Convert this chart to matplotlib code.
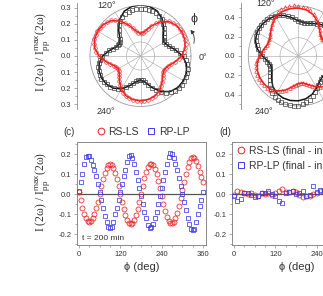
import numpy as np
import matplotlib
matplotlib.use('Agg')
import matplotlib.pyplot as plt
from matplotlib.ticker import MultipleLocator, FuncFormatter, FixedLocator
from matplotlib.lines import Line2D
from matplotlib.patches import FancyArrowPatch

plt.rcParams['font.family'] = ['Liberation Sans', 'DejaVu Sans']
plt.rcParams['mathtext.fontset'] = 'custom'
plt.rcParams['mathtext.rm'] = 'Liberation Sans'
plt.rcParams['mathtext.it'] = 'Liberation Sans:italic'

# ---------------- data ----------------
# polar panels: data every 5 deg, fit curves every 10 deg
phi_data = np.arange(0, 360, 5)
phi_fit = np.arange(0, 360, 10)
theta_ticks = list(range(0, 360, 30))
theta_labels = ['0°', '120°', '240°']

# (a) RS-LS (red) and RP-LP (black)
red_a_data = [.26, .275, .285, .292, .298, .30, .302, .30, .297, .29, .282, .266, .25, .226, .2, .178,
              .158, .146, .142, .146, .16, .18, .205, .23, .255, .275, .29, .3, .306, .31, .312, .31,
              .307, .302, .292, .28, .262, .24, .218, .196, .178, .166, .162, .165, .175, .19, .207, .225,
              .242, .256, .267, .275, .28, .283, .284, .283, .28, .275, .267, .257, .244, .229, .212, .196,
              .183, .174, .171, .175, .185, .2, .219, .239]
red_a_fit = [.257, .283, .296, .300, .296, .280, .247, .200, .157, .140, .158, .203, .253, .288, .305, .310,
             .306, .291, .260, .216, .176, .160, .173, .205, .240, .265, .277, .280, .277, .266, .243, .211,
             .182, .170, .184, .218]
blk_a_data = [.27, .25, .228, .205, .188, .176, .172, .176, .188, .206, .226, .248, .266, .278, .285, .29,
              .293, .295, .295, .294, .291, .286, .28, .27, .255, .235, .212, .19, .17, .158, .153, .156,
              .166, .181, .199, .219, .238, .253, .264, .273, .278, .281, .282, .28, .277, .272, .262, .25,
              .235, .216, .196, .178, .162, .152, .148, .152, .165, .185, .21, .236, .26, .28, .296, .306,
              .312, .315, .316, .315, .312, .307, .298, .286]
blk_a_fit = [.263, .222, .185, .170, .186, .226, .270, .301, .316, .320, .315, .298, .263, .213, .168, .150,
             .164, .198, .237, .263, .276, .280, .276, .263, .237, .198, .164, .150, .167, .210, .257, .290,
             .306, .310, .306, .292]

# (b)
red_b_data = [.42, .4, .38, .357, .336, .318, .306, .302, .308, .323, .348, .378, .41, .44, .467, .49,
              .505, .515, .525, .53, .53, .525, .515, .5, .482, .458, .43, .405, .38, .36, .347, .342,
              .345, .356, .372, .39, .41, .428, .443, .455, .465, .472, .475, .475, .472, .466, .455, .44,
              .42, .398, .372, .346, .32, .3, .287, .282, .287, .3, .32, .344, .37, .393, .413, .428,
              .439, .445, .449, .45, .449, .446, .441, .432]
red_b_fit = [.418, .379, .335, .304, .306, .346, .405, .457, .487, .499, .499, .490, .466, .424, .377, .344,
             .343, .368, .403, .434, .452, .459, .459, .449, .421, .375, .321, .285, .285, .319, .369, .413,
             .439, .449, .449, .441]
blk_b_data = [.436, .443, .448, .45, .451, .45, .447, .444, .437, .428, .416, .402, .388, .374, .362, .354,
              .352, .356, .368, .386, .407, .43, .452, .47, .484, .494, .5, .503, .503, .5, .494, .485,
              .47, .45, .428, .402, .376, .35, .33, .318, .315, .322, .338, .362, .39, .418, .445, .468,
              .488, .503, .513, .52, .522, .52, .515, .505, .49, .47, .445, .415, .388, .365, .348, .337,
              .333, .336, .345, .36, .377, .395, .412, .426]
blk_b_fit = [.435, .447, .450, .447, .437, .417, .387, .361, .350, .366, .406, .450, .481, .496, .500, .495,
             .475, .433, .375, .321, .300, .318, .363, .413, .448, .465, .470, .466, .452, .423, .382, .345,
             .330, .343, .375, .410]

# (c) t = 200 min
phi_c = np.arange(0, 365, 5)
rs_c = [.01, -.03, -.07, -.10, -.12, -.135, -.14, -.135, -.12, -.10, -.07, -.04, .00, .04, .075, .105,
        .13, .145, .15, .145, .13, .105, .075, .04, .00, -.04, -.075, -.105, -.13, -.145, -.15, -.145,
        -.13, -.105, -.075, -.04, .00, .04, .08, .11, .135, .15, .15, .145, .125, .10, .065, .03,
        -.01, -.05, -.085, -.115, -.135, -.145, -.145, -.14, -.12, -.095, -.06, -.02, .02, .06, .10, .135,
        .16, .18, .185, .18, .165, .14, .11, .085, .06]
rp_c = [.015, .06, .10, .15, .185, .19, .19, .17, .145, .12, .09, .05, .01, -.03, -.07, -.11,
        -.14, -.165, -.17, -.165, -.14, -.10, -.07, -.03, .01, .05, .09, .12, .16, .19, .195, .18,
        .15, .11, .07, .03, -.01, -.05, -.09, -.12, -.155, -.17, -.165, -.15, -.12, -.09, -.05, -.01,
        .03, .07, .11, .15, .185, .205, .2, .18, .15, .12, .08, .04, .00, -.04, -.08, -.12,
        -.15, -.175, -.18, -.175, -.14, -.10, -.06, -.03, .01]

# (d) final - initial
phi_d = np.arange(0, 270, 10)
rs_d = [-.005, .017, .01, .007, .0, .003, -.005, -.01, .003, .0, .003, -.003, .005, .017, .027, .01,
        .01, .015, .01, -.005, -.013, -.01, -.01, .0, .007, .017, .02]
rp_d = [-.008, -.035, -.027, .003, .003, -.005, -.013, -.01, .003, .005, .017, .0, -.01, -.035, -.047, .005,
        .01, .017, .0, .005, .017, -.008, -.005, .04, .01, .02, .015]

# ---------------- style ----------------
RED = '#ee2222'
BLUE = '#3b3bee'
BLK = '#111111'
SQ = '#404040'
AXC = '#8a8a8a'
TXT = '#333333'

W, H = 323, 296
fig = plt.figure(figsize=(W / 100, H / 100), dpi=100)


def rect(l, t, w, h):
    return [l / W, 1 - (t + h) / H, w / W, h / H]


def fpos(x, y):
    return x / W, 1 - y / H


def closed(th, v):
    return np.deg2rad(np.append(th, 360)), np.append(v, v[0])


def polar_panel(r, rmax, inner, reds, redfit, redmark, blks, blkfit, lab_pos):
    ax = fig.add_axes(r, projection='polar')
    ax.set_ylim(0, rmax)
    ax.set_rgrids([inner], labels=[''])
    ax.set_thetagrids(theta_ticks, labels=[''] * len(theta_ticks))
    ax.grid(True, color='#b4b4b4', lw=0.5)
    ax.spines['polar'].set_color('#9a9a9a')
    ax.spines['polar'].set_linewidth(0.6)
    ax.set_yticklabels([])
    t, v = closed(phi_fit, blkfit)
    ax.plot(t, v, color=BLK, lw=1.1, zorder=3)
    ax.plot(np.deg2rad(phi_data), blks, ls='none', marker='s', ms=2.5, mfc='none',
            mec=SQ, mew=0.5, zorder=4, clip_on=False)
    t, v = closed(phi_fit, redfit)
    ax.plot(t, v, color=RED, lw=1.1, zorder=5)
    ax.plot(np.deg2rad(phi_data), reds, ls='none', marker=redmark, ms=2.6, mfc='none',
            mec=RED, mew=0.45, zorder=6, clip_on=False)
    for txt, (x, y) in zip(theta_labels, lab_pos):
        if x is not None:
            fig.text(*fpos(x, y), txt, fontsize=6.5, ha='center', va='center', color=TXT)
    return ax


def scale_axis(r, lim, major, minor):
    ax = fig.add_axes(r)
    ax.patch.set_visible(False)
    for s in ['top', 'right', 'bottom']:
        ax.spines[s].set_visible(False)
    ax.spines['left'].set_color(AXC)
    ax.spines['left'].set_linewidth(0.6)
    ax.set_xticks([])
    ax.set_ylim(-lim, lim)
    ax.yaxis.set_major_locator(FixedLocator(major))
    ax.yaxis.set_minor_locator(MultipleLocator(minor))
    ax.yaxis.set_major_formatter(FuncFormatter(lambda v, p: f'{abs(v):.1f}'))
    ax.tick_params(axis='y', which='major', direction='out', length=2.5, width=0.5,
                   labelsize=5.5, colors=AXC, labelcolor=TXT, pad=1.5)
    ax.tick_params(axis='y', which='minor', direction='out', length=1.5, width=0.5, colors=AXC)
    return ax


# (a)
scale_axis(rect(77, 3, 10, 106), 0.33, [-0.3, -0.2, -0.1, 0, 0.1, 0.2, 0.3], 0.05)
polar_panel(rect(90, 5.5, 101, 101), 0.316, 0.088, red_a_data, red_a_fit, 'o', blk_a_data, blk_a_fit,
            [(203, 57), (107, 5), (106, 111)])
# (b)
scale_axis(rect(240.7, 3, 10, 106), 0.55, [-0.4, -0.2, 0, 0.2, 0.4], 0.1)
polar_panel(rect(248.3, 6, 100, 100), 0.52, 0.19, red_b_data, red_b_fit, '^', blk_b_data, blk_b_fit,
            [(None, None), (266, 3), (264, 112)])

# phi arrow
fig.text(*fpos(194, 19), 'ϕ', fontsize=9, ha='center', va='center', color=TXT)
fig.add_artist(FancyArrowPatch(
    fpos(193, 46), fpos(188.5, 28), transform=fig.transFigure,
    connectionstyle='arc3,rad=0.35', arrowstyle='-|>,head_length=2.2,head_width=1.2',
    lw=0.6, color=TXT))


def lin_panel(r):
    ax = fig.add_axes(r)
    ax.set_xlim(-5.8, 368.7)
    ax.set_ylim(-0.255, 0.26)
    ax.set_xticks([0, 120, 240, 360])
    ax.xaxis.set_minor_locator(MultipleLocator(30))
    ax.set_yticks([-0.2, -0.1, 0.0, 0.1, 0.2])
    ax.yaxis.set_minor_locator(MultipleLocator(0.05))
    ax.yaxis.set_major_formatter(FuncFormatter(lambda v, p: f'{v:.1f}'))
    for s in ax.spines.values():
        s.set_color(AXC)
        s.set_linewidth(0.7)
    ax.tick_params(which='major', direction='out', length=2.5, width=0.5, labelsize=5.5,
                   colors=AXC, labelcolor=TXT, pad=1.5)
    ax.tick_params(which='minor', direction='out', length=1.5, width=0.5, colors=AXC)
    ax.axhline(0, color='#555555', lw=0.9, zorder=1)
    return ax


axc = lin_panel(rect(77, 142, 129, 103))
axc.plot(phi_c, rs_c, ls='none', marker='o', ms=3.6, mfc='none', mec=RED, mew=0.55, zorder=3)
axc.plot(phi_c, rp_c, ls='none', marker='s', ms=3.2, mfc='none', mec=BLUE, mew=0.55, zorder=3)
axc.text(*fpos(82, 239), 't = 200 min', transform=fig.transFigure, fontsize=6,
         ha='left', va='center', color=TXT)

axd = lin_panel(rect(232, 142, 129, 103))
axd.plot(phi_d, rs_d, ls='none', marker='o', ms=3.6, mfc='none', mec=RED, mew=0.55, zorder=3)
axd.plot(phi_d, rp_d, ls='none', marker='s', ms=3.2, mfc='none', mec=BLUE, mew=0.55, zorder=3)

h_rs = Line2D([], [], ls='none', marker='o', ms=4.8, mfc='none', mec=RED, mew=0.7)
h_rp = Line2D([], [], ls='none', marker='s', ms=4.3, mfc='none', mec=BLUE, mew=0.7)
fig.legend([h_rs, h_rp], ['RS-LS', 'RP-LP'], loc='center', bbox_to_anchor=fpos(143, 132),
           ncol=2, frameon=False, fontsize=7.5, handlelength=0.8, handletextpad=0.35,
           columnspacing=0.8, borderpad=0, borderaxespad=0, labelcolor=TXT)
axd.legend([h_rs, h_rp], ['RS-LS (final - initial)', 'RP-LP (final - initial)'], loc='upper left',
           bbox_to_anchor=fpos(237, 146), bbox_transform=fig.transFigure, frameon=False,
           fontsize=7.5, handlelength=0.8, handletextpad=0.35, labelspacing=0.45,
           borderpad=0, borderaxespad=0, labelcolor=TXT)

fig.text(*fpos(69, 132), '(c)', fontsize=7, ha='center', va='center', color=TXT)
fig.text(*fpos(225, 132), '(d)', fontsize=7, ha='center', va='center', color=TXT)

ylab = 'I (2ω) / I$_{\\rm pp}^{\\rm max}$(2ω)'
for yc in (52, 192):
    fig.text(*fpos(43, yc), ylab, rotation=90, ha='center', va='center', fontsize=8.5,
             family=['Liberation Serif', 'DejaVu Serif'], color=TXT)
for xc in (142, 297):
    fig.text(*fpos(xc, 267), 'ϕ (deg)', ha='center', va='center', fontsize=8, color=TXT)

fig.savefig('out.png', dpi=100)
